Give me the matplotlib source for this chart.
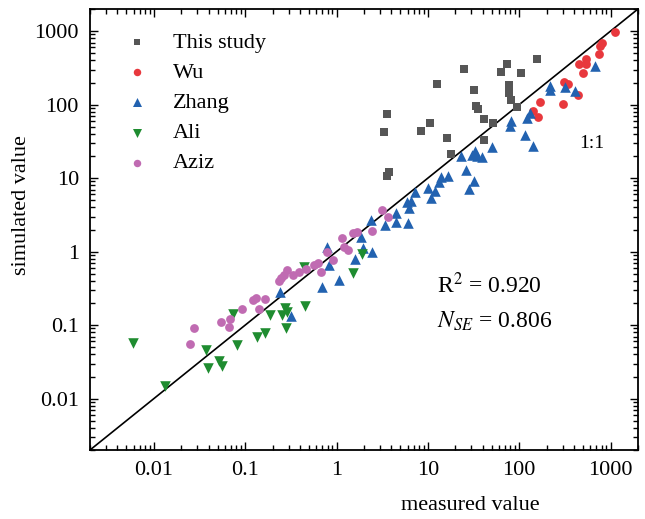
import numpy as np
import matplotlib
matplotlib.use("Agg")
import matplotlib.pyplot as plt

###################################################################################################
# Data
###################################################################################################
study_x = [3.60, 3.31, 3.75, 3.60, 12.7, 8.43, 10.5, 16.3, 18.1, 24.7, 32.3, 33.6,
           35.3, 41.6, 41.1, 51.5, 63.3, 73.2, 104, 78.0, 78.0, 81.4, 94.6, 156]
study_y = [75.6, 42.0, 12.0, 10.6, 188, 43.4, 56.4, 35.0, 21.5, 301, 156, 95.1,
           87.6, 64.6, 33.4, 56.4, 280, 360, 272, 185, 142, 117, 94.2, 412]

wu_x = [1111, 812, 774, 745, 533, 453, 544, 501, 307, 342, 436, 301, 169, 161, 142]
wu_y = [984, 688, 620, 489, 412, 358, 352, 272, 203, 191, 135, 103, 107, 67.1, 81.3]

zhang_x = [669, 215, 215, 319, 413, 132, 122, 81.0, 80.0, 116, 142, 50.5, 33.2, 30.5,
           34.6, 39.3, 23.3, 26.5, 32.3, 28.0, 16.8, 13.8, 13.2, 12.1, 10.0, 10.7,
           7.21, 6.47, 5.85, 6.20, 6.05, 4.44, 4.44, 3.39, 2.37, 1.84, 1.94, 2.47,
           1.59, 0.79, 0.83, 0.686, 1.07, 0.243, 0.317]
zhang_y = [338, 177, 156, 174, 151, 77.3, 66.1, 59.4, 51.4, 39.1, 27.7, 26.8, 23.3, 20.9,
           19.8, 19.2, 19.8, 13.0, 9.22, 7.17, 10.8, 10.3, 8.85, 6.58, 7.33, 5.35,
           6.38, 4.92, 4.72, 3.91, 2.44, 3.34, 2.50, 2.28, 2.71, 1.60, 1.11, 1.00,
           0.80, 1.14, 0.66, 0.33, 0.41, 0.282, 0.135]

ali_x = [0.00585, 0.0131, 0.0377, 0.0387, 0.0523, 0.0560, 0.0732, 0.0812, 0.135, 0.165,
         0.187, 0.250, 0.273, 0.289, 0.283, 0.447, 0.445, 1.50, 1.89]
ali_y = [0.0568, 0.0147, 0.0452, 0.0257, 0.0323, 0.0278, 0.142, 0.0534, 0.0692, 0.0770,
         0.137, 0.137, 0.173, 0.150, 0.091, 0.182, 0.609, 0.512, 0.916]

aziz_x = [0.0275, 0.0248, 0.0546, 0.0681, 0.0659, 0.0913, 0.121, 0.133, 0.142, 0.165,
          0.234, 0.268, 0.290, 0.333, 0.388, 0.462, 0.620, 0.674, 0.784, 0.904,
          1.16, 1.21, 1.32, 1.50, 1.67, 2.47, 3.12, 3.68, 0.246, 0.569]
aziz_y = [0.0902, 0.0551, 0.109, 0.121, 0.0939, 0.164, 0.219, 0.237, 0.168, 0.230,
          0.398, 0.474, 0.554, 0.481, 0.520, 0.575, 0.695, 0.534, 0.99, 0.770,
          1.52, 1.17, 1.05, 1.77, 1.86, 1.92, 3.71, 2.97, 0.431, 0.659]

ticks = [0.01, 0.1, 1, 10, 100, 1000]
tick_labels = ['0.01', '0.1', '1', '10', '100', '1000']
lims = [0.002, 2000]

###################################################################################################
# Plot
###################################################################################################
plt.rcParams['font.family'] = ['Liberation Serif', 'DejaVu Serif']
plt.rcParams['mathtext.fontset'] = 'stix'

fig = plt.figure(figsize=(6.45, 5.19), dpi=100)
ax = fig.add_axes([90/645, 69/519, 548/645, 441/519])

# 1:1 line
ax.plot(lims, lims, color='black', lw=1.2, zorder=1)

ax.scatter(study_x, study_y, marker='s', s=30, color='#565656', lw=0, label='This study', zorder=2)
ax.scatter(wu_x, wu_y, marker='o', s=40, color='#e8383d', lw=0, label='Wu', zorder=2)
ax.scatter(zhang_x, zhang_y, marker='^', s=58, color='#2262b0', lw=0, label='Zhang', zorder=2)
ax.scatter(ali_x, ali_y, marker='v', s=58, color='#1f8c30', lw=0, label='Ali', zorder=2)
ax.scatter(aziz_x, aziz_y, marker='o', s=40, color='#c06bb2', lw=0, label='Aziz', zorder=3)

ax.set_xscale('log')
ax.set_yscale('log')
ax.set_xlim(lims)
ax.set_ylim(lims)
ax.set_xticks(ticks)
ax.set_xticklabels(tick_labels)
ax.set_yticks(ticks)
ax.set_yticklabels(tick_labels)

ax.tick_params(which='both', direction='in', top=True, right=True, labelsize=16, width=1.0)
ax.tick_params(which='major', length=6, pad=8)
ax.tick_params(which='minor', length=3.5)
for sp in ax.spines.values():
    sp.set_linewidth(1.3)

leg = ax.legend(loc='upper left', bbox_to_anchor=(0.046, 0.972), frameon=False, fontsize=16,
                borderpad=0, handlelength=1.0, handletextpad=1.1, labelspacing=0.43,
                markerscale=0.85)

ax.text(0.892, 0.685, '1:1', transform=ax.transAxes, fontsize=14)
ax.text(0.633, 0.356, r'R$^2$ = 0.920', transform=ax.transAxes, fontsize=17, va='baseline')
ax.text(0.633, 0.278, r'$N_{SE}$ = 0.806', transform=ax.transAxes, fontsize=17, va='baseline')

fig.text(470/645, 14/519, 'measured value', ha='center', va='center', fontsize=16)
fig.text(22/645, 314/519, 'simulated value', ha='center', va='center', rotation=90, fontsize=16)

fig.savefig('out.png', dpi=100)
plt.close()
